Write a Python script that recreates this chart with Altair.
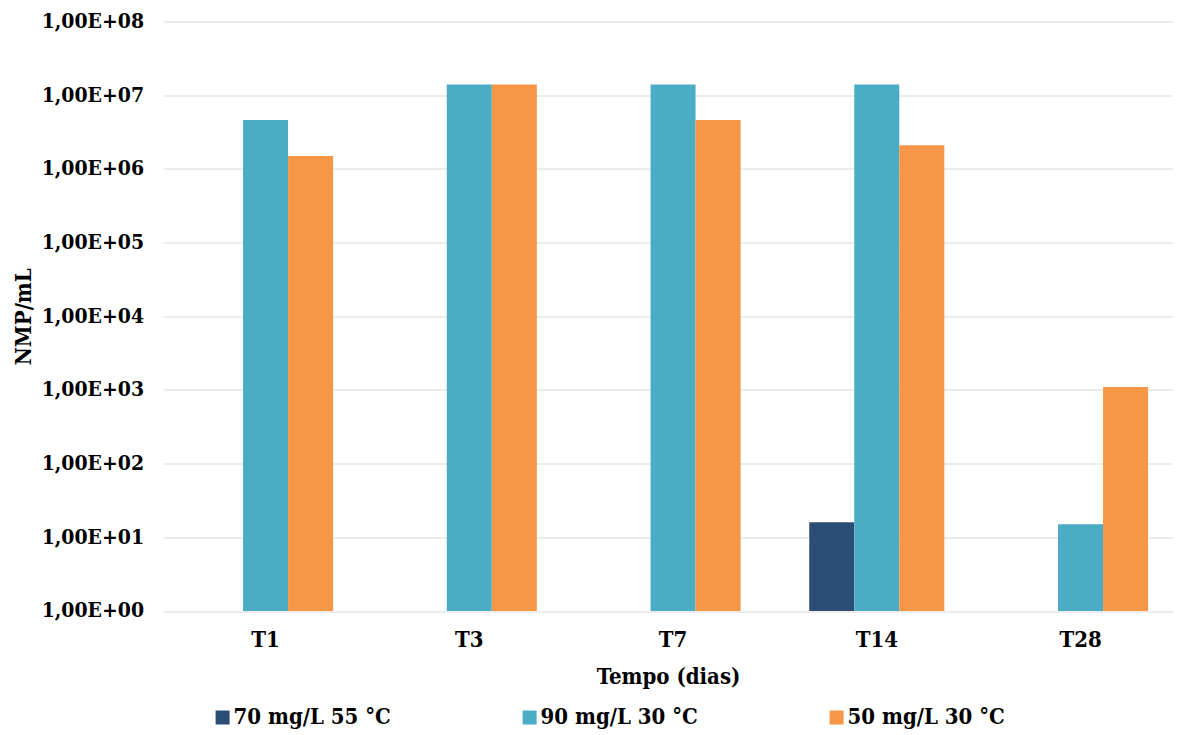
import altair as alt
import pandas as pd

categories = ["T1", "T3", "T7", "T14", "T28"]
series = ["70 mg/L 55 °C", "90 mg/L 30 °C", "50 mg/L 30 °C"]
colors = ["#2C4D75", "#4BACC6", "#F79646"]
s70 = [None, None, None, 16, None]
s90 = [4.6e6, 1.4e7, 1.4e7, 1.4e7, 15]
s50 = [1.5e6, 1.4e7, 4.6e6, 2.1e6, 1.1e3]
y_ticks = [1, 10, 100, 1e3, 1e4, 1e5, 1e6, 1e7, 1e8]

rows = []
for name, vals in zip(series, [s70, s90, s50]):
    for c, v in zip(categories, vals):
        if v is not None:
            rows.append({"Tempo": c, "Serie": name, "NMP": v, "base": 1})
df = pd.DataFrame(rows)

FONT = "DejaVu Serif Condensed, DejaVu Serif"
FS = 22

chart = alt.Chart(df).mark_bar().encode(
    x=alt.X("Tempo:N", sort=categories,
            scale=alt.Scale(domain=categories, paddingInner=0.337, paddingOuter=0.1446, align=0.584),
            axis=alt.Axis(title="Tempo (dias)", labelAngle=0, domain=False, ticks=False,
                          labelFont=FONT, labelFontSize=FS, labelFontWeight="bold", labelColor="black",
                          labelPadding=19, titleFont=FONT, titleFontSize=FS, titleFontWeight="bold",
                          titleColor="black", titleBaseline="alphabetic", titleY=73)),
    xOffset=alt.XOffset("Serie:N", sort=series, scale=alt.Scale(domain=series, paddingInner=0, paddingOuter=0)),
    y=alt.Y("NMP:Q", scale=alt.Scale(type="log", domain=[1, 1e8], nice=False),
            axis=alt.Axis(title="NMP/mL", values=y_ticks, domain=False, ticks=False,
                          gridColor="#D9D9D9", gridWidth=1,
                          labelExpr="'1,00E+' + (datum.value < 1e10 ? '0' : '') + format(log(datum.value)/LN10, '.0f')",
                          labelFont=FONT, labelFontSize=21, labelFontWeight="bold", labelColor="black",
                          labelPadding=20, titleFont=FONT, titleFontSize=FS, titleFontWeight="bold",
                          titleColor="black", titleX=-140, titleBaseline="middle")),
    y2=alt.Y2("base:Q"),
    color=alt.Color("Serie:N", sort=series, scale=alt.Scale(domain=series, range=colors),
                    legend=alt.Legend(title=None, orient="none", legendX=48, legendY=685,
                                      direction="horizontal", columns=3, gridAlign="all",
                                      columnPadding=127, symbolType="square", symbolSize=196,
                                      symbolStrokeWidth=0, labelOffset=0,
                                      labelFont=FONT, labelFontSize=FS, labelFontWeight="bold",
                                      labelColor="black", labelLimit=400)),
).properties(
    width=1009, height=589.5,
    autosize=alt.AutoSizeParams(type="none"),
    padding={"left": 155.6, "top": 13.5, "right": 0, "bottom": 118},
).configure_view(stroke=None)

chart.save("out.html", embed_options={"renderer": "svg", "actions": False})
